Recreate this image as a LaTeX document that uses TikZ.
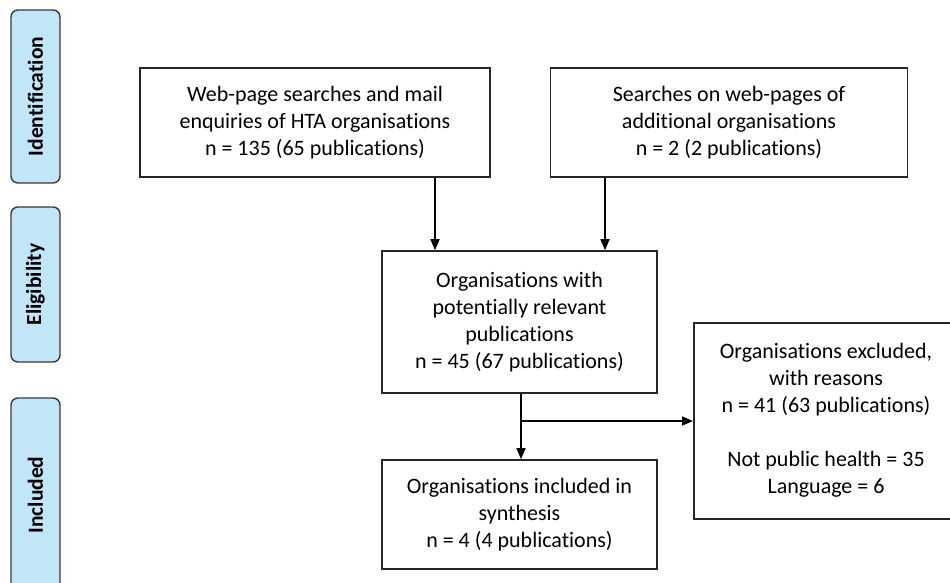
\documentclass[tikz,border=0pt]{standalone}
\usepackage{fontspec}
\setmainfont{Carlito}[Ligatures=NoCommon]
\usetikzlibrary{arrows.meta}
\definecolor{sideblue}{HTML}{C2E5F8}
\definecolor{sideedge}{HTML}{3A3A3A}
\begin{document}
\begin{tikzpicture}[x=1pt,y=-1pt,
  flowbox/.style={draw=black!85, line width=1.6pt, fill=white, align=center, inner sep=0pt,
    font=\fontsize{22}{27}\selectfont},
  sidebox/.style={draw=sideedge, line width=1.4pt, fill=sideblue, rounded corners=7pt},
  sidelabel/.style={rotate=90, font=\fontsize{21.5}{24}\selectfont\bfseries},
  conn/.style={line width=1.6pt, -{Triangle[length=11pt,width=9pt]}},
  plain/.style={line width=1.6pt}]
\useasboundingbox (0,0) rectangle (950,582);
\fill[white] (0,0) rectangle (950,582);
% side boxes
\draw[sidebox] (11,10) rectangle (60,183);
\node[sidelabel] (lid) at (35.5,96.5) {Identification};
\draw[sidebox] (11,207) rectangle (60,362);
\node[sidelabel] (lel) at (35.5,284.5) {Eligibility};
\draw[sidebox] (11,398) rectangle (60,600);
\node[sidelabel] (lin) at (35.5,495) {Included};
% boxes
\node[flowbox, minimum width=350pt, minimum height=109pt] (b1) at (315,122.5)
  {Web-page searches and mail\\enquiries of HTA organisations\\n = 135 (65 publications)};
\node[flowbox, minimum width=357pt, minimum height=109pt] (b2) at (729,122.5)
  {Searches on web-pages of\\additional organisations\\n = 2 (2 publications)};
\node[flowbox, minimum width=275pt, minimum height=142pt] (b3) at (519.5,322)
  {Organisations with\\potentially relevant\\publications\\n = 45 (67 publications)};
\node[flowbox, minimum width=275pt, minimum height=109pt] (b4) at (519.5,514.5)
  {Organisations included in\\synthesis\\n = 4 (4 publications)};
\node[flowbox, minimum width=264pt, minimum height=196pt, anchor=north west] (b5) at (693,322) {};
\node[font=\fontsize{22}{27}\selectfont, align=center] (t5) at (826,420)
  {Organisations excluded,\\with reasons\\n = 41 (63 publications)\\[27pt]Not public health = 35\\Language = 6};
% connectors
\draw[conn] (b1.south -| 435,0) -- (b3.north -| 435,0);
\draw[conn] (b2.south -| 605,0) -- (b3.north -| 605,0);
\draw[conn] (b3.south -| 521,0) -- (b4.north -| 521,0);
\coordinate (br) at (521,421);
\draw[conn] (br) -- (br -| b5.west);
\end{tikzpicture}
\end{document}
